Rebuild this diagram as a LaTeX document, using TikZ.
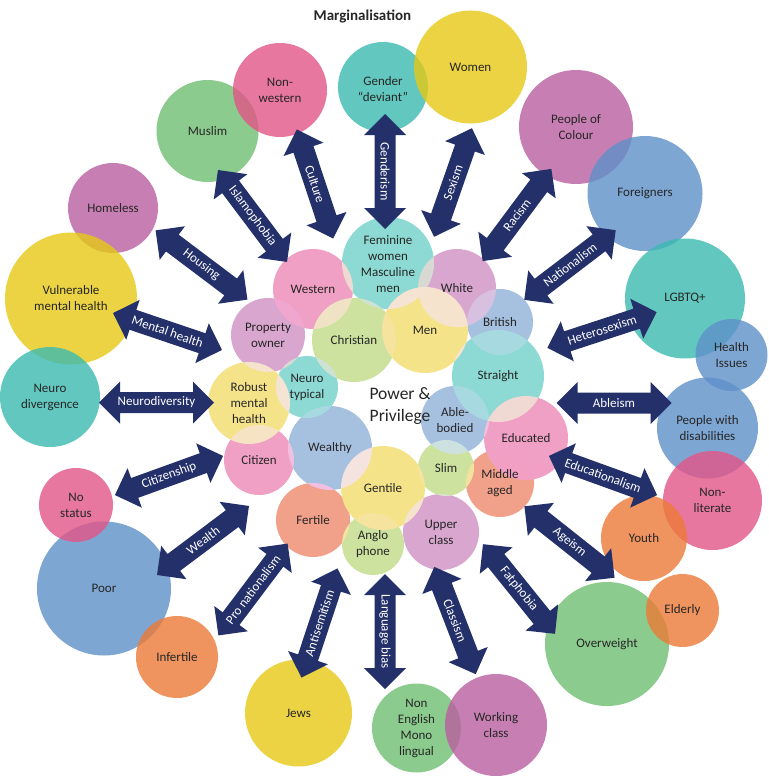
\documentclass[tikz,border=0pt]{standalone}
\usepackage{fontspec}
\setmainfont{Carlito}
\definecolor{navy}{RGB}{35,48,106}
% outer (marginalised) colours, used with fill opacity 0.8
\definecolor{opink}{RGB}{226,85,135}
\definecolor{ogreen}{RGB}{112,190,114}
\definecolor{oteal}{RGB}{59,186,176}
\definecolor{oyellow}{RGB}{230,201,21}
\definecolor{opurple}{RGB}{185,95,160}
\definecolor{oblue}{RGB}{94,144,201}
\definecolor{oorange}{RGB}{236,122,54}
% inner (privileged) colours
\definecolor{ipink}{RGB}{240,160,196}
\definecolor{iteal}{RGB}{141,217,211}
\definecolor{ipurple}{RGB}{216,166,206}
\definecolor{iblue}{RGB}{166,192,224}
\definecolor{iyellow}{RGB}{245,227,138}
\definecolor{ilime}{RGB}{205,226,158}
\definecolor{isalmon}{RGB}{241,160,138}
\newcommand\mkarrow[4]{%
  \begin{scope}[shift={(#2)},rotate=#3]
    \fill[navy] (-57.5,0) -- (-36.5,21) -- (-36.5,10.5) -- (36.5,10.5) -- (36.5,21)
      -- (57.5,0) -- (36.5,-21) -- (36.5,-10.5) -- (-36.5,-10.5) -- (-36.5,-21) -- cycle;
    \node[arrtxt,rotate=#3] (#1) at (0,0) {#4};
  \end{scope}}
\begin{document}
\begin{tikzpicture}[x=1pt,y=-1pt,
  oc/.style={circle,inner sep=0pt,draw=none,fill opacity=0.8},
  ic/.style={circle,inner sep=0pt,draw=none},
  lbl/.style={align=center,inner sep=0pt,text=black!85,font=\fontsize{13}{16}\selectfont},
  arrtxt/.style={inner sep=0pt,text=white,font=\fontsize{13}{15}\selectfont}]
\fill[white] (0,0) rectangle (768,776);
\useasboundingbox (0,0) rectangle (768,776);

% ---------- outer circles ----------
\node[oc,fill=ogreen,minimum size=102] (muslim) at (207.5,131) {};
\node[oc,fill=opink,minimum size=94] (nonwestern) at (280,90) {};
\node[oc,fill=oteal,minimum size=90] (gender) at (383,87) {};
\node[oc,fill=oyellow,minimum size=113] (women) at (470.5,67) {};
\node[oc,fill=opurple,minimum size=114] (poc) at (576,127) {};
\node[oc,fill=oblue,minimum size=115] (foreigners) at (645,193.5) {};
\node[oc,fill=oteal,minimum size=120] (lgbtq) at (685,298.5) {};
\node[oc,fill=oblue,minimum size=72] (health) at (731.5,355) {};
\node[oc,fill=opurple,minimum size=90] (homeless) at (113,208) {};
\node[oc,fill=oyellow,minimum size=132] (vulnerable) at (71,298.5) {};
\node[oc,fill=oteal,minimum size=100] (neurodiv) at (50,397) {};
\node[oc,fill=oblue,minimum size=101] (disabilities) at (707.5,428) {};
\node[oc,fill=opink,minimum size=99] (nonliterate) at (712.5,500.5) {};
\node[oc,fill=oorange,minimum size=86] (youth) at (644,538) {};
\node[oc,fill=ogreen,minimum size=124] (overweight) at (607,644) {};
\node[oc,fill=oorange,minimum size=73] (elderly) at (682.5,610.5) {};
\node[oc,fill=ogreen,minimum size=89] (nonenglish) at (416.5,728) {};
\node[oc,fill=opurple,minimum size=102] (working) at (496,725) {};
\node[oc,fill=oyellow,minimum size=107] (jews) at (298.5,713) {};
\node[oc,fill=oblue,minimum size=134] (poor) at (104,588.5) {};
\node[oc,fill=oorange,minimum size=82] (infertile) at (177,657) {};
\node[oc,fill=opink,minimum size=74] (nostatus) at (76,505) {};

% ---------- inner circles ----------
\begin{scope}[transparency group]
\begin{scope}[blend mode=lighten]
\node[ic,fill=ipink,minimum size=80] (western) at (313,289) {};
\node[ic,fill=iteal,minimum size=92] (feminine) at (388,263) {};
\node[ic,fill=ipurple,minimum size=78] (white) at (457,288) {};
\node[ic,fill=iblue,minimum size=66] (british) at (500,322) {};
\node[ic,fill=iyellow,minimum size=86] (men) at (425,330) {};
\node[ic,fill=ilime,minimum size=84] (christian) at (354,340) {};
\node[ic,fill=ipurple,minimum size=74] (property) at (268,335) {};
\node[ic,fill=iteal,minimum size=92] (straight) at (498,376) {};
\node[ic,fill=iteal,minimum size=62] (neurotyp) at (307,387) {};
\node[ic,fill=iyellow,minimum size=82] (robust) at (249,403) {};
\node[ic,fill=iblue,minimum size=68] (able) at (455,420) {};
\node[ic,fill=ipink,minimum size=84] (educated) at (526,438) {};
\node[ic,fill=iblue,minimum size=84] (wealthy) at (330,448) {};
\node[ic,fill=ipink,minimum size=70] (citizen) at (259,460) {};
\node[ic,fill=ilime,minimum size=56] (slim) at (446,468) {};
\node[ic,fill=isalmon,minimum size=68] (middle) at (500,483) {};
\node[ic,fill=iyellow,minimum size=84] (gentile) at (383,488) {};
\node[ic,fill=isalmon,minimum size=74] (fertile) at (313,520) {};
\node[ic,fill=ipurple,minimum size=76] (upper) at (441,532) {};
\node[ic,fill=ilime,minimum size=62] (anglo) at (373,544) {};
\end{scope}
\end{scope}

% ---------- arrows ----------
\mkarrow{a-culture}{315,184}{-71.6}{Culture}
\mkarrow{a-islam}{252.5,216}{-53.1}{Islamophobia}
\mkarrow{a-housing}{201.5,265}{-37}{Housing}
\mkarrow{a-mental}{167.5,331.5}{-18.7}{Mental health}
\mkarrow{a-gender}{385,171.5}{-90}{Genderism}
\mkarrow{a-sexism}{453,182.5}{70.8}{Sexism}
\mkarrow{a-racism}{517,215}{53.3}{Racism}
\mkarrow{a-nation}{570,265}{37.3}{Nationalism}
\mkarrow{a-hetero}{602,330}{18.1}{Heterosexism}
\mkarrow{a-neuro}{156.5,402.5}{0}{Neurodiversity}
\mkarrow{a-ableism}{614,403}{0}{Ableism}
\mkarrow{a-citizen}{169,475.5}{19.9}{Citizenship}
\mkarrow{a-educ}{603,475.5}{-19.9}{Educationalism}
\mkarrow{a-wealth}{203,540.5}{36.9}{Wealth}
\mkarrow{a-ageism}{569.5,542}{-38.4}{Ageism}
\mkarrow{a-pronat}{253,589.5}{53}{Pro nationalism}
\mkarrow{a-fat}{519,589}{-51.2}{Fatphobia}
\mkarrow{a-anti}{319.5,623}{71.7}{Antisemitism}
\mkarrow{a-lang}{385,631.5}{-90}{Language bias}
\mkarrow{a-class}{455,620.5}{-68.9}{Classism}

% ---------- labels ----------
\node[lbl] (t-muslim) at (muslim) {Muslim};
\node[lbl] (t-nonwestern) at (nonwestern) {Non-\\western};
\node[lbl] (t-gender) at (383,89) {Gender\\“deviant”};
\node[lbl] (t-women) at (women) {Women};
\node[lbl] (t-poc) at (poc) {People of\\Colour};
\node[lbl] (t-foreigners) at (foreigners) {Foreigners};
\node[lbl] (t-lgbtq) at (lgbtq) {LGBTQ+};
\node[lbl] (t-health) at (health) {Health\\Issues};
\node[lbl] (t-homeless) at (homeless) {Homeless};
\node[lbl] (t-vulnerable) at (vulnerable) {Vulnerable\\mental health};
\node[lbl] (t-neurodiv) at (neurodiv) {Neuro\\divergence};
\node[lbl] (t-disabilities) at (disabilities) {People with\\disabilities};
\node[lbl] (t-nonliterate) at (nonliterate) {Non-\\literate};
\node[lbl] (t-youth) at (youth) {Youth};
\node[lbl] (t-elderly) at (elderly) {Elderly};
\node[lbl] (t-overweight) at (overweight) {Overweight};
\node[lbl] (t-nonenglish) at (nonenglish) {Non\\English\\Mono\\lingual};
\node[lbl] (t-working) at (working) {Working\\class};
\node[lbl] (t-jews) at (jews) {Jews};
\node[lbl] (t-poor) at (poor) {Poor};
\node[lbl] (t-infertile) at (infertile) {Infertile};
\node[lbl] (t-nostatus) at (nostatus) {No\\status};

\node[lbl] (t-western) at (western) {Western};
\node[lbl] (t-feminine) at (388,264) {Feminine\\women\\Masculine\\men};
\node[lbl] (t-white) at (white) {White};
\node[lbl] (t-british) at (british) {British};
\node[lbl] (t-men) at (men) {Men};
\node[lbl] (t-christian) at (christian) {Christian};
\node[lbl] (t-property) at (property) {Property\\owner};
\node[lbl] (t-straight) at (straight) {Straight};
\node[lbl] (t-neurotyp) at (neurotyp) {Neuro\\typical};
\node[lbl] (t-robust) at (robust) {Robust\\mental\\health};
\node[lbl] (t-able) at (able) {Able-\\bodied};
\node[lbl] (t-educated) at (educated) {Educated};
\node[lbl] (t-wealthy) at (wealthy) {Wealthy};
\node[lbl] (t-citizen) at (citizen) {Citizen};
\node[lbl] (t-slim) at (slim) {Slim};
\node[lbl] (t-middle) at (middle) {Middle\\aged};
\node[lbl] (t-gentile) at (gentile) {Gentile};
\node[lbl] (t-fertile) at (fertile) {Fertile};
\node[lbl] (t-upper) at (upper) {Upper\\class};
\node[lbl] (t-anglo) at (anglo) {Anglo\\phone};

\node[align=center,inner sep=0pt,text=black!85,font=\fontsize{17.5}{22}\selectfont] (pp) at (400,406) {Power \&\\Privilege};
\node[anchor=base,inner sep=0pt,text=black!85,font=\bfseries\fontsize{15}{18}\selectfont] (title) at (362.4,20.7) {Marginalisation};
\end{tikzpicture}
\end{document}
